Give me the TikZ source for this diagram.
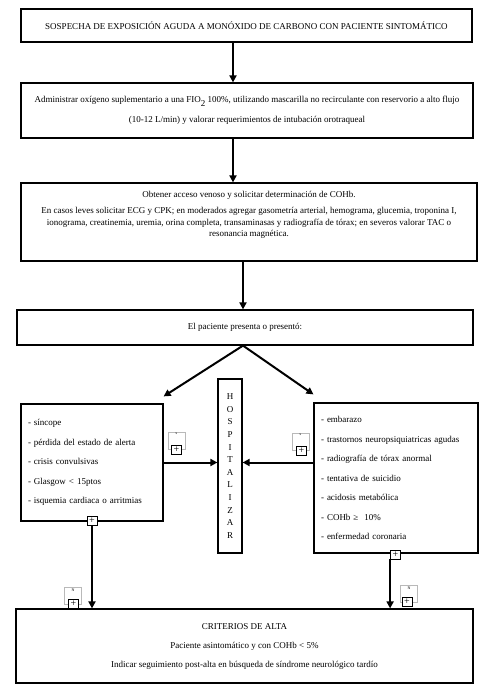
\documentclass[tikz,border=0pt]{standalone}
\usepackage{fontspec}
\setmainfont{Liberation Serif}
\usetikzlibrary{arrows.meta}

\begin{document}
\begin{tikzpicture}[x=1pt,y=-1pt,
    font=\fontsize{9}{11.5}\selectfont,
    stepbox/.style={draw,line width=1.2pt,align=center,inner sep=0pt},
    listbox/.style={stepbox,align=left,inner xsep=7pt,font=\fontsize{9}{19.5}\selectfont},
    flow/.style={line width=2pt,-{Triangle[length=7pt,width=7pt]}},
    tagbox/.style={draw=gray!55,line width=0.6pt,minimum width=17pt,minimum height=17pt,inner sep=0pt},
    plusbox/.style={draw,fill=white,line width=0.8pt,minimum width=10pt,minimum height=9pt,inner sep=0pt,font=\fontsize{10}{10}\selectfont}]
    \useasboundingbox (0,0) rectangle (500,700);
    % Steps
    \node[stepbox,minimum width=451pt,minimum height=33pt] (hdr) at (246.5,25.5)
        {SOSPECHA DE EXPOSICIÓN AGUDA A MONÓXIDO DE CARBONO CON PACIENTE SINTOMÁTICO};
    \node[stepbox,minimum width=452pt,minimum height=55pt,font=\fontsize{9}{20}\selectfont] (oxy) at (247,110.5)
        {Administrar oxígeno suplementario a una FIO\raisebox{-3.5pt}{2} 100\%, utilizando mascarilla no recirculante con reservorio a alto flujo\\
         (10-12 L/min) y valorar requerimientos de intubación orotraqueal};
    \node[stepbox,minimum width=456pt,minimum height=78pt] (lab) at (249,222)
        {\parbox[c][62pt][t]{452pt}{\centering Obtener acceso venoso y solicitar determinación de COHb.\\[5pt]
         En casos leves solicitar ECG y CPK; en moderados agregar gasometría arterial, hemograma, glucemia, troponina I,\\
         ionograma, creatinemia, uremia, orina completa, transaminasas y radiografía de tórax; en severos valorar TAC o\\
         resonancia magnética.}};
    \node[stepbox,minimum width=456pt,minimum height=35pt] (pres) at (245,327.5) {El paciente presenta o presentó:};
    % Criteria
    \node[listbox,text width=128pt,minimum height=117pt] (sint) at (92,462.5)
        {- síncope\\ - pérdida del estado de alerta\\ - crisis convulsivas\\ - Glasgow < 15ptos\\ - isquemia cardiaca o arritmias};
    \node[listbox,text width=150pt,minimum height=150pt] (grav) at (396,478)
        {- embarazo\\ - trastornos neuropsiquiatricas agudas\\ - radiografía de tórax anormal\\ - tentativa de suicidio\\
         - acidosis metabólica\\ - COHb ≥\ \ 10\%\\ - enfermedad coronaria};
    \node[stepbox,minimum width=24pt,minimum height=174pt,font=\fontsize{9}{12.6}\selectfont] (hosp) at (230,466)
        {H\\O\\S\\P\\I\\T\\A\\L\\I\\Z\\A\\R};
    \node[stepbox,minimum width=457pt,minimum height=74pt,font=\fontsize{9}{19}\selectfont] (alta) at (244.5,646)
        {CRITERIOS DE ALTA\\ Paciente asintomático y con COHb < 5\%\\
         Indicar seguimiento post-alta en búsqueda de síndrome neurológico tardío};
    % Arrows
    \draw[flow] ([xshift=-13.5pt]hdr.south) -- ([xshift=-13.5pt]hdr.south |- oxy.north);
    \draw[flow] ([xshift=-14pt]oxy.south) -- ([xshift=-14pt]oxy.south |- lab.north);
    \draw[flow] ([xshift=-6pt]lab.south) -- ([xshift=-6pt]lab.south |- pres.north);
    \draw[flow] ([xshift=-2pt]pres.south) -- ([yshift=7pt]sint.north east);
    \draw[flow] ([xshift=-2pt]pres.south) -- ([yshift=8pt]grav.north west);
    \draw[flow] (sint.east) -- (sint.east -| hosp.west);
    \draw[flow] (grav.west |- sint.east) -- (hosp.east |- sint.east);
    \node[plusbox] (plusL) at (92,521) {+};
    \node[plusbox] (plusR) at (395.5,554.5) {+};
    \draw[flow] (plusL.south) -- (plusL.south |- alta.north);
    \draw[flow] (plusR.south west) -- (plusR.south west |- alta.north);
    \node[plusbox] at (92,521) {+};
    \node[plusbox] at (395.5,554.5) {+};
    % Markers
    \node[tagbox,label={[font=\fontsize{4}{4}\selectfont,inner sep=1pt,anchor=north]north:s}] (tagSL) at (176.5,440.5) {};
    \node[plusbox] (plusSL) at (176.5,449.5) {+};
    \node[tagbox,label={[font=\fontsize{4}{4}\selectfont,inner sep=1pt,anchor=north]north:s}] (tagSR) at (300.5,441.5) {};
    \node[plusbox] (plusSR) at (301.5,450.5) {+};
    \node[tagbox,label={[font=\fontsize{4}{4}\selectfont,inner sep=1pt,anchor=north]north:N}] (tagNL) at (73,596) {};
    \node[plusbox] (plusNL) at (73.5,603.5) {+};
    \node[tagbox,label={[font=\fontsize{4}{4}\selectfont,inner sep=1pt,anchor=north]north:N}] (tagNR) at (409,594) {};
    \node[plusbox] (plusNR) at (407,602) {+};
\end{tikzpicture}
\end{document}
